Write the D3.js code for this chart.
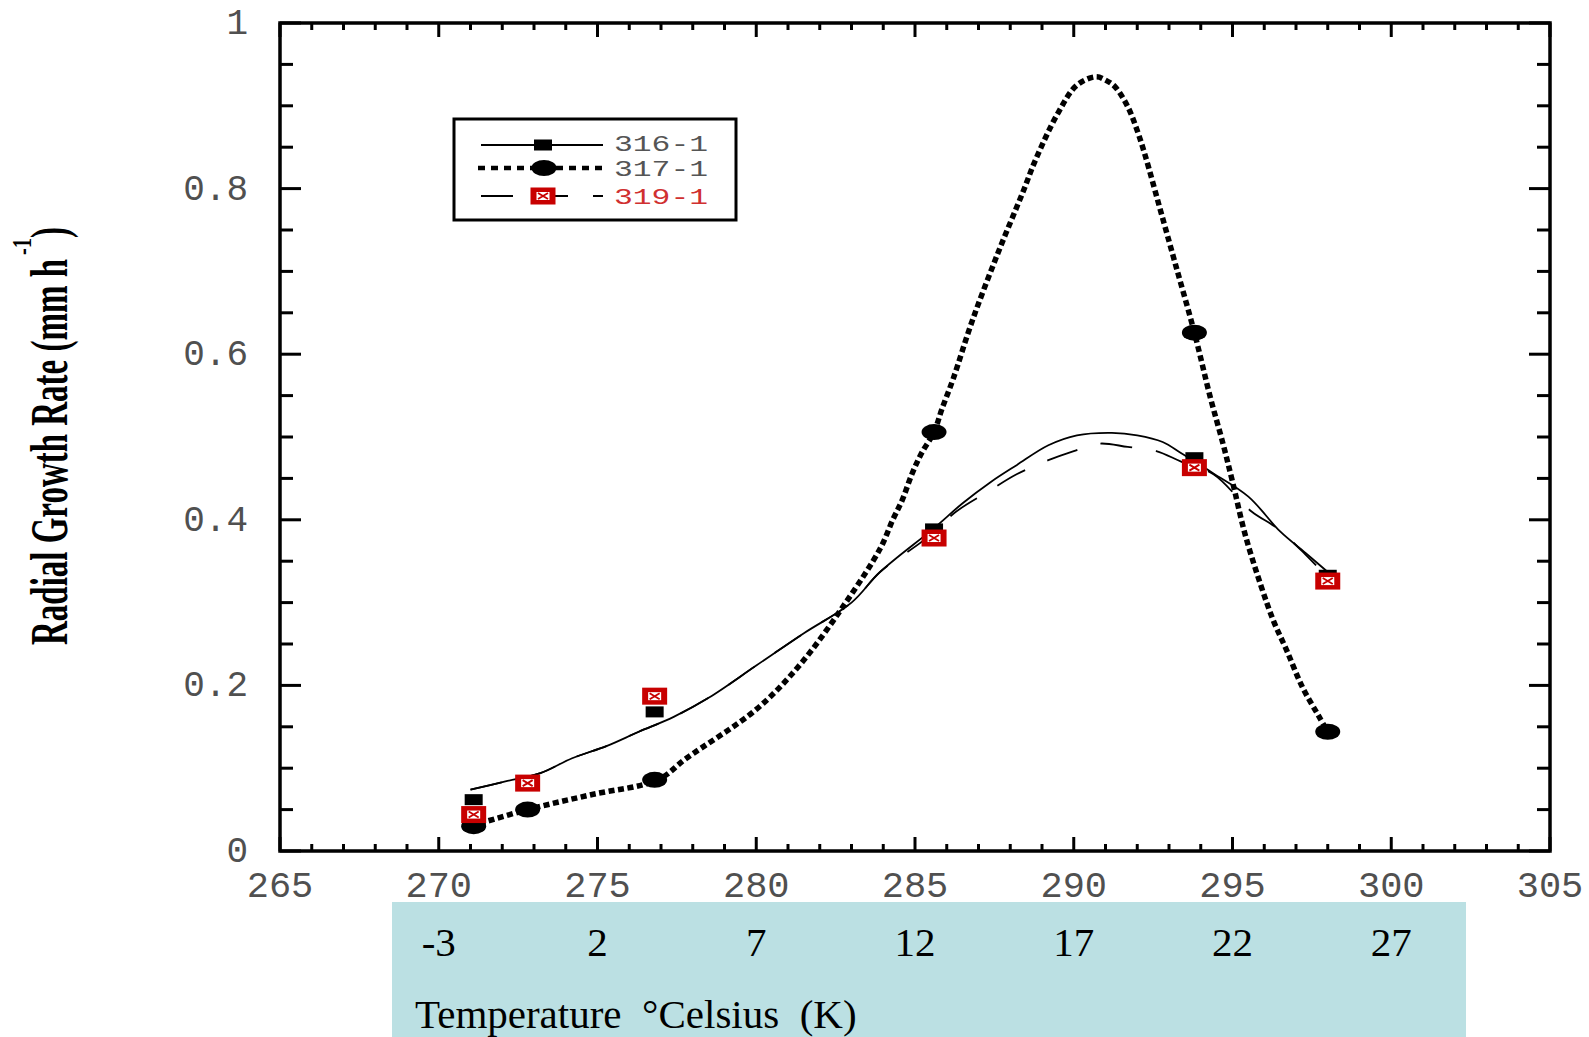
<!DOCTYPE html>
<html>
<head>
<meta charset="utf-8">
<script src="https://cdn.jsdelivr.net/npm/d3@7"></script>
<style>
  html, body { margin: 0; padding: 0; background: #fff; }
  svg { display: block; }
</style>
</head>
<body>
<svg id="chart" width="1589" height="1037"></svg>
<script>
// Measured temperatures (K) and radial growth rates (mm h^-1) per strain
const temps = [271.1, 272.8, 276.8, 285.6, 293.8, 298.0];
const rate316 = [0.062, null, 0.168, 0.389, 0.475, 0.333];
const rate317 = [0.030, 0.050, 0.086, 0.506, 0.626, 0.144];
const rate319 = [0.044, 0.082, 0.187, 0.378, 0.463, 0.326];

// Fitted curves (temperature K, rate)
const fit316K = [271.0, 272.1, 273.2, 274.2, 275.3, 276.3, 277.4, 278.5, 280.0, 281.5, 283.0, 283.9, 285.6, 286.5, 287.4, 288.2, 289.2, 290.1, 291.2, 292.0, 292.8, 293.4, 294.4, 295.5, 296.5, 297.3, 298.0];
const fit316V = [0.074, 0.084, 0.094, 0.112, 0.127, 0.144, 0.162, 0.185, 0.224, 0.263, 0.300, 0.337, 0.390, 0.420, 0.446, 0.466, 0.490, 0.502, 0.505, 0.502, 0.494, 0.480, 0.456, 0.428, 0.386, 0.360, 0.337];

const fit317K = [271.0, 272.8, 274.8, 276.9, 277.8, 280.0, 281.4, 282.8, 283.9, 284.3, 284.6, 284.9, 285.2, 285.6, 285.85, 286.2, 286.8, 287.6, 288.4, 288.8, 289.5, 290.1, 290.7, 291.0, 291.3, 291.7, 292.0, 292.25, 292.7, 293.2, 293.8, 294.3, 294.7, 295.0, 295.4, 295.9, 296.3, 296.7, 297.2, 297.7, 298.0];
const fit317V = [0.030, 0.050, 0.068, 0.086, 0.112, 0.171, 0.226, 0.299, 0.365, 0.400, 0.424, 0.455, 0.480, 0.506, 0.534, 0.570, 0.640, 0.721, 0.796, 0.835, 0.891, 0.925, 0.935, 0.931, 0.923, 0.899, 0.870, 0.840, 0.778, 0.709, 0.626, 0.548, 0.492, 0.446, 0.382, 0.320, 0.277, 0.243, 0.198, 0.164, 0.144];

const fit319K = [271.0, 272.1, 273.2, 274.2, 275.3, 276.3, 277.4, 278.5, 280.0, 281.5, 283.0, 283.9, 285.3, 286.3, 287.3, 288.2, 289.2, 290.0, 290.8, 291.7, 292.6, 293.4, 294.4, 295.6, 296.4, 297.3, 298.0];
const fit319V = [0.074, 0.084, 0.094, 0.112, 0.127, 0.144, 0.162, 0.185, 0.224, 0.263, 0.300, 0.337, 0.376, 0.410, 0.434, 0.455, 0.472, 0.483, 0.492, 0.488, 0.483, 0.470, 0.455, 0.410, 0.390, 0.358, 0.330];

// Axis labels
const kelvinTicks = [265, 270, 275, 280, 285, 290, 295, 300, 305];
const rateTicks = [0, 0.2, 0.4, 0.6, 0.8, 1];
const rateTickText = ["0", "0.2", "0.4", "0.6", "0.8", "1"];
const celsiusTicks = [-3, 2, 7, 12, 17, 22, 27];
const seriesNames = ["316-1", "317-1", "319-1"];

const svg = d3.select("#chart");
const x = d3.scaleLinear().domain([265, 305]).range([280, 1550]);
const y = d3.scaleLinear().domain([0, 1]).range([851, 23]);

const RED = "#c80000";
const monoFont = "'Liberation Mono', 'Courier New', monospace";
const serifFont = "'Liberation Serif', 'Times New Roman', serif";

// Celsius band under the axis
svg.append("rect")
  .attr("x", 392).attr("y", 902).attr("width", 1074).attr("height", 135)
  .attr("fill", "#bbe0e3");

// Tick marks on all four sides, pointing inward
const ticks = svg.append("g").attr("stroke", "#000").attr("stroke-width", 3);
d3.range(265, 306, 1).forEach(k => {
  const major = k % 5 === 0;
  const len = major ? 14 : 7;
  ticks.append("line").attr("x1", x(k)).attr("x2", x(k)).attr("y1", y(0)).attr("y2", y(0) - len);
  ticks.append("line").attr("x1", x(k)).attr("x2", x(k)).attr("y1", y(1)).attr("y2", y(1) + len);
});
d3.range(0, 21, 1).map(i => i * 0.05).forEach((v, i) => {
  const major = i % 4 === 0;
  const len = major ? 21 : 13;
  ticks.append("line").attr("x1", x(265)).attr("x2", x(265) + len).attr("y1", y(v)).attr("y2", y(v));
  ticks.append("line").attr("x1", x(305)).attr("x2", x(305) - len).attr("y1", y(v)).attr("y2", y(v));
});

// Frame
svg.append("rect")
  .attr("x", x(265)).attr("y", y(1))
  .attr("width", x(305) - x(265)).attr("height", y(0) - y(1))
  .attr("fill", "none").attr("stroke", "#000").attr("stroke-width", 3.5);

// Kelvin tick labels
svg.append("g").selectAll("text").data(kelvinTicks).join("text")
  .attr("x", d => x(d)).attr("y", 897)
  .attr("text-anchor", "middle")
  .attr("font-family", monoFont).attr("font-size", 37).attr("fill", "#505050")
  .text(d => d);

// Rate tick labels
svg.append("g").selectAll("text").data(rateTicks).join("text")
  .attr("x", 248).attr("y", d => y(d) + 11)
  .attr("text-anchor", "end")
  .attr("font-family", monoFont).attr("font-size", 36).attr("fill", "#505050")
  .text((d, i) => rateTickText[i]);

// Celsius labels
svg.append("g").selectAll("text").data(celsiusTicks).join("text")
  .attr("x", d => x(d + 273)).attr("y", 956)
  .attr("text-anchor", "middle")
  .attr("font-family", serifFont).attr("font-size", 41).attr("fill", "#000")
  .text(d => d);

svg.append("text")
  .attr("x", 415).attr("y", 1028)
  .attr("font-family", serifFont).attr("font-size", 41).attr("fill", "#000")
  .style("white-space", "pre")
  .text("Temperature  \u00B0Celsius  (K)");

// Y axis title
const yt = svg.append("g").attr("transform", "translate(67,645) rotate(-90)")
  .attr("font-family", serifFont).attr("font-weight", "bold").attr("fill", "#000");
yt.append("text").attr("x", 0).attr("y", 0).attr("font-size", 52)
  .attr("textLength", 386).attr("lengthAdjust", "spacingAndGlyphs")
  .text("Radial Growth Rate (mm h");
yt.append("text").attr("x", 390).attr("y", -36).attr("font-size", 28)
  .attr("textLength", 17).attr("lengthAdjust", "spacingAndGlyphs")
  .text("-1");
yt.append("text").attr("x", 407).attr("y", 0).attr("font-size", 52)
  .attr("textLength", 11).attr("lengthAdjust", "spacingAndGlyphs")
  .text(")");

// Fitted curves
const line = d3.line().x(d => x(d[0])).y(d => y(d[1])).curve(d3.curveCatmullRom.alpha(0.5));
const plot = svg.append("g");
plot.append("path").datum(d3.zip(fit316K, fit316V)).attr("d", line)
  .attr("fill", "none").attr("stroke", "#000").attr("stroke-width", 1.8);
plot.append("path").datum(d3.zip(fit319K, fit319V)).attr("d", line)
  .attr("fill", "none").attr("stroke", "#000").attr("stroke-width", 1.8)
  .attr("stroke-dasharray", "32 24");
plot.append("path").datum(d3.zip(fit317K, fit317V)).attr("d", line)
  .attr("fill", "none").attr("stroke", "#000").attr("stroke-width", 5.5)
  .attr("stroke-dasharray", "6 3.5");

// Marker shapes
function square316(g) {
  g.append("rect").attr("x", -9).attr("y", -5.5).attr("width", 18).attr("height", 11).attr("fill", "#000");
}
function blob317(g) {
  g.append("ellipse").attr("rx", 12.5).attr("ry", 8).attr("fill", "#000");
}
function box319(g) {
  g.append("rect").attr("x", -12.5).attr("y", -8.5).attr("width", 25).attr("height", 17).attr("fill", RED);
  g.append("rect").attr("x", -6.5).attr("y", -4).attr("width", 13).attr("height", 8).attr("fill", "#fff");
  g.append("path").attr("d", "M-5,-3L5,3M-5,3L5,-3").attr("stroke", RED).attr("stroke-width", 1.8);
}

const pts = (vals) => temps.map((t, i) => [t, vals[i]]).filter(d => d[1] != null);
pts(rate316).forEach(d => square316(plot.append("g").attr("transform", `translate(${x(d[0])},${y(d[1])})`)));
pts(rate317).forEach(d => blob317(plot.append("g").attr("transform", `translate(${x(d[0])},${y(d[1])})`)));
pts(rate319).forEach(d => box319(plot.append("g").attr("transform", `translate(${x(d[0])},${y(d[1])})`)));

// Legend
const lg = svg.append("g");
lg.append("rect").attr("x", 454).attr("y", 119).attr("width", 282).attr("height", 101)
  .attr("fill", "#fff").attr("stroke", "#000").attr("stroke-width", 3);
const rows = [145, 168, 196];
lg.append("line").attr("x1", 481).attr("x2", 603).attr("y1", rows[0]).attr("y2", rows[0])
  .attr("stroke", "#000").attr("stroke-width", 2);
square316(lg.append("g").attr("transform", `translate(543,${rows[0]})`));
lg.append("line").attr("x1", 478).attr("x2", 602).attr("y1", rows[1]).attr("y2", rows[1])
  .attr("stroke", "#000").attr("stroke-width", 4.5).attr("stroke-dasharray", "7 6");
blob317(lg.append("g").attr("transform", `translate(544,${rows[1]})`));
lg.append("path").attr("d", `M481,${rows[2]}H513M555,${rows[2]}H568M593,${rows[2]}H603`)
  .attr("stroke", "#000").attr("stroke-width", 2);
box319(lg.append("g").attr("transform", `translate(543,${rows[2]})`));
const labelBase = [151, 176, 204];
lg.selectAll("text.lab").data(seriesNames).join("text")
  .attr("class", "lab")
  .attr("x", 614).attr("y", (d, i) => labelBase[i])
  .attr("font-family", monoFont).attr("font-size", 22)
  .attr("textLength", 94).attr("lengthAdjust", "spacingAndGlyphs")
  .attr("fill", (d, i) => i === 2 ? "#d03030" : "#555")
  .text(d => d);
</script>
</body>
</html>
